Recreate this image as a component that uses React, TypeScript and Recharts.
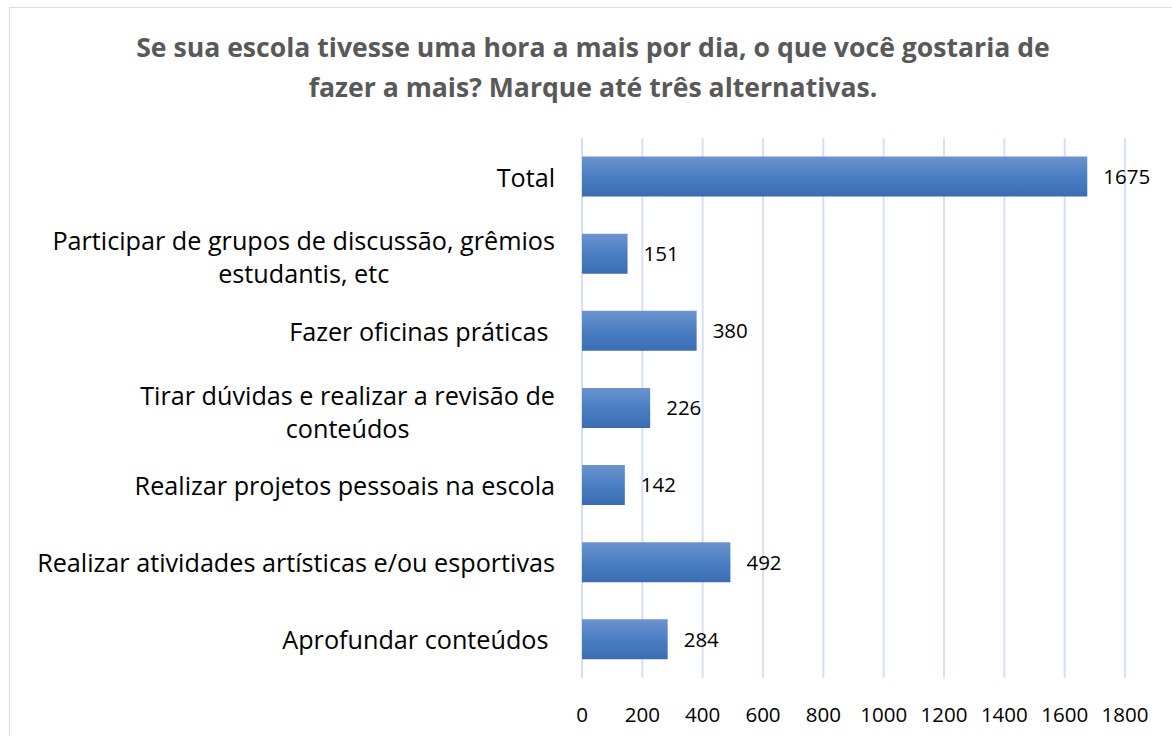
import React from "react";
import { BarChart, Bar, XAxis, YAxis, CartesianGrid, LabelList } from "recharts";

const categories: string[][] = [
  ["Total"],
  ["Participar de grupos de discussão, grêmios", "estudantis, etc"],
  ["Fazer oficinas práticas "],
  ["Tirar dúvidas e realizar a revisão de", "conteúdos"],
  ["Realizar projetos pessoais na escola"],
  ["Realizar atividades artísticas e/ou esportivas"],
  ["Aprofundar conteúdos "],
];
const values: number[] = [1675, 151, 380, 226, 142, 492, 284];
const xTicks: number[] = [0, 200, 400, 600, 800, 1000, 1200, 1400, 1600, 1800];
const titleLines: string[] = [
  "Se sua escola tivesse uma hora a mais por dia, o que você gostaria de",
  "fazer a mais? Marque até três alternativas.",
];

const data = categories.map((lines, i) => ({ name: lines.join("\n"), value: values[i] }));

const FONT = "'Open Sans', Lato, sans-serif";
const CAT_SIZE = 25.2;

let ctx: CanvasRenderingContext2D | null = null;
function measure(text: string, size: number): number {
  if (typeof document === "undefined") return text.length * size * 0.5;
  if (!ctx) ctx = document.createElement("canvas").getContext("2d");
  if (!ctx) return text.length * size * 0.5;
  ctx.font = `${size}px 'Open Sans'`;
  return ctx.measureText(text).width;
}

const CategoryTick = (props: any) => {
  const { y, payload } = props;
  const lines: string[] = String(payload.value).split("\n");
  const right = 555;
  const lh = 33;
  if (lines.length === 1) {
    return (
      <text x={right} y={y} textAnchor="end" dominantBaseline="central" fontFamily={FONT} fontSize={CAT_SIZE} fill="#000" style={{ whiteSpace: "pre" }}>
        {lines[0]}
      </text>
    );
  }
  const maxW = Math.max(...lines.map((l) => measure(l, CAT_SIZE)));
  const cx = right - maxW / 2;
  const startY = y - ((lines.length - 1) * lh) / 2 + 3;
  return (
    <g>
      {lines.map((l, i) => (
        <text key={i} x={cx} y={startY + i * lh} textAnchor="middle" dominantBaseline="central" fontFamily={FONT} fontSize={CAT_SIZE} fill="#000">
          {l}
        </text>
      ))}
    </g>
  );
};

const ValueTick = (props: any) => {
  const { x, payload } = props;
  return (
    <text x={x} y={714} textAnchor="middle" dominantBaseline="central" fontFamily={FONT} fontSize={20.5} fill="#000">
      {payload.value}
    </text>
  );
};

export default function App() {
  return (
    <div style={{ position: "absolute", left: 0, top: 0, width: 1172, height: 736, background: "#fff", overflow: "hidden" }}>
      <div
        style={{
          position: "absolute",
          left: 9,
          top: 7,
          width: 1200,
          height: 800,
          border: "1.5px solid #d9e1ec",
          boxSizing: "border-box",
        }}
      />
      <div
        style={{
          position: "absolute",
          left: 0,
          top: 27,
          width: 1186,
          textAlign: "center",
          fontFamily: FONT,
          fontWeight: 700,
          fontSize: 26.6,
          lineHeight: "40px",
          color: "#595959",
        }}
      >
        {titleLines.map((t, i) => (
          <div key={i}>{t}</div>
        ))}
      </div>
      <div style={{ position: "absolute", left: 0, top: 0 }}>
        <BarChart
          width={1172}
          height={736}
          data={data}
          layout="vertical"
          margin={{ top: 138, right: 47, bottom: 18, left: 0 }}
          barCategoryGap="24%"
        >
          <defs>
            <linearGradient id="barGrad" x1="0" y1="0" x2="0" y2="1">
              <stop offset="0%" stopColor="#6c93cd" />
              <stop offset="50%" stopColor="#4a7fc3" />
              <stop offset="100%" stopColor="#3b6cb1" />
            </linearGradient>
          </defs>
          <CartesianGrid horizontal={false} vertical={true} stroke="#d5e1f3" strokeWidth={2} />
          <XAxis
            type="number"
            domain={[0, 1800]}
            ticks={xTicks}
            axisLine={false}
            tickLine={false}
            height={40}
            tick={<ValueTick />}
            interval={0}
          />
          <YAxis
            type="category"
            dataKey="name"
            width={582}
            axisLine={false}
            tickLine={false}
            tick={<CategoryTick />}
            interval={0}
          />
          <Bar dataKey="value" fill="url(#barGrad)" isAnimationActive={false}>
            <LabelList dataKey="value" position="right" offset={16} fontFamily={FONT} fontSize={20.5} fill="#000" />
          </Bar>
        </BarChart>
      </div>
    </div>
  );
}
